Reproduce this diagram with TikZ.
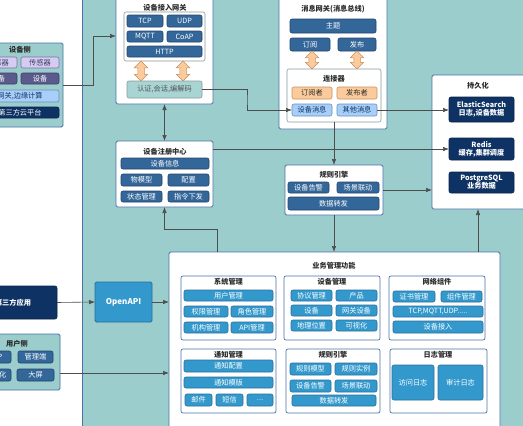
\documentclass[tikz,border=0pt]{standalone}
\usepackage{fontspec}
\setmainfont{Noto Sans CJK SC}
\usetikzlibrary{arrows.meta,shapes.arrows,calc}
\definecolor{tealbg}{HTML}{9BCDCD}
\definecolor{bordC}{HTML}{4A72A8}
\definecolor{dkF}{HTML}{336699}
\definecolor{dkD}{HTML}{23446B}
\definecolor{mdF}{HTML}{3399CC}
\definecolor{mdD}{HTML}{2A6E99}
\definecolor{nvF}{HTML}{0E3264}
\definecolor{nvD}{HTML}{0A2448}
\definecolor{orgF}{HTML}{FCCB9B}
\definecolor{orgD}{HTML}{C89060}
\definecolor{lbF}{HTML}{A7CFF7}
\definecolor{lbD}{HTML}{6A8FBF}
\definecolor{lavF}{HTML}{D6CCF2}
\definecolor{lavD}{HTML}{7A72A8}
\definecolor{purF}{HTML}{5A5A8C}
\definecolor{purD}{HTML}{3E3E66}
\definecolor{authF}{HTML}{A8D4D3}
\definecolor{authD}{HTML}{8A9A9A}
\definecolor{lineC}{HTML}{4D4D4D}
\definecolor{txtC}{HTML}{2B2B2B}
\newcommand\mybox[7]{%
  \pgfmathsetmacro\bxw{(#5)-(#3)}\pgfmathsetmacro\bxh{(#6)-(#4)}%
  \pgfmathsetmacro\bxcx{((#3)+(#5))/2}\pgfmathsetmacro\bxcy{((#4)+(#6))/2}%
  \node[#2, minimum width=\bxw pt, minimum height=\bxh pt] (#1) at (\bxcx,\bxcy) {#7};}
\tikzset{
  base/.style={inner sep=0pt, outer sep=0pt, font=\fontsize{7.2}{8.2}\selectfont, align=center},
  outerbox/.style={base, draw=bordC, fill=white, line width=0.8pt, rounded corners=1.5pt},
  grpbox/.style={base, draw=bordC, fill=white, line width=0.7pt, rounded corners=2pt},
  inbox/.style={base, draw=authD, fill=white, line width=0.6pt, rounded corners=2pt},
  sidebox/.style={base, draw=bordC, fill=tealbg, line width=0.8pt, rounded corners=1.5pt},
  itm/.style={base, rounded corners=2pt, line width=0.6pt},
  dk/.style={itm, fill=dkF, draw=dkD, text=white},
  md/.style={itm, fill=mdF, draw=mdD, text=white},
  nv/.style={itm, fill=nvF, draw=nvD, text=white},
  org/.style={itm, fill=orgF, draw=orgD, text=txtC},
  lb/.style={itm, fill=lbF, draw=lbD, text=nvF},
  lav/.style={itm, fill=lavF, draw=lavD, text=purD},
  pur/.style={itm, fill=purF, draw=purD, text=white},
  authS/.style={itm, fill=authF, draw=authD, text=txtC!80},
  apiS/.style={base, fill=mdF, draw=mdD, line width=0.8pt, rounded corners=1.5pt, text=white, font=\fontsize{8}{9}\selectfont\bfseries},
  ttl/.style={base, text=txtC, font=\fontsize{7.2}{8.2}\selectfont\bfseries},
  dbl/.style={double arrow, shape border rotate=90, draw=orgD, fill=orgF, line width=0.5pt,
     inner sep=3pt, minimum height=20pt, double arrow head extend=3.5pt},
  conn/.style={draw=lineC, line width=0.6pt, -{Latex[length=6pt,width=4.5pt]}},
  conn2/.style={draw=lineC, line width=0.6pt, {Latex[length=6pt,width=4.5pt]}-{Latex[length=6pt,width=4.5pt]}}
}
\begin{document}
\begin{tikzpicture}[x=1pt,y=-1pt]
\useasboundingbox (0,0) rectangle (523,426);
\clip (0,0) rectangle (523,426);
\fill[white] (0,0) rectangle (523,426);
\fill[tealbg] (82,-10) rectangle (540,440);
\draw[bordC, line width=0.8pt] (82,-10) -- (82,440);

% device access gateway
\mybox{gw}{outerbox}{116}{-5}{213}{104}{}
\node[ttl] (gwT) at (165,7.5) {设备接入网关};
\mybox{gwin}{inbox}{124}{12}{205}{61}{}
\mybox{tcp}{dk}{127}{15}{163}{27}{TCP}
\mybox{udp}{dk}{167}{15}{202}{27}{UDP}
\mybox{mqtt}{dk}{127}{31}{163}{42}{MQTT}
\mybox{coap}{dk}{167}{31}{202}{42}{CoAP}
\mybox{http}{dk}{127}{46}{202}{57}{HTTP}
\node[dbl] (da1) at (141,71) {};
\node[dbl] (da2) at (183,71) {};
\mybox{auth}{authS}{127}{81}{202}{98}{认证,会话,编解码}

% message gateway
\mybox{mg}{outerbox}{279}{-5}{387}{129}{}
\node[ttl] (mgT) at (333,9.5) {消息网关(消息总线)};
\mybox{topic}{dk}{290}{19}{376}{33}{主题}
\mybox{sub}{dk}{290}{38}{330}{51}{订阅}
\mybox{pub}{dk}{338}{38}{376}{51}{发布}
\node[dbl, minimum height=18pt] (da3) at (312,60) {};
\node[dbl, minimum height=18pt] (da4) at (357,60) {};
\mybox{cn}{inbox}{287}{69}{381}{122}{}
\node[ttl] (cnT) at (334,79) {连接器};
\mybox{suber}{org}{292}{87}{332}{99}{订阅者}
\mybox{puber}{org}{337}{87}{377}{99}{发布者}
\mybox{devmsg}{lb}{292}{104}{332}{116}{设备消息}
\mybox{othmsg}{lb}{337}{104}{377}{116}{其他消息}

% persistence
\mybox{pers}{outerbox}{432}{75}{528}{209}{}
\node[ttl] (persT) at (478,86) {持久化};
\mybox{es}{nv}{449}{97}{514}{122}{\bfseries ElasticSearch\\\bfseries 日志,设备数据}
\mybox{redis}{nv}{449}{138}{514}{160}{\bfseries Redis\\\bfseries 缓存,集群调度}
\mybox{pg}{nv}{449}{172}{514}{193}{\bfseries PostgreSQL\\\bfseries 业务数据}

% registry
\mybox{reg}{outerbox}{116}{141}{213}{207}{}
\node[ttl] (regT) at (165,152) {设备注册中心};
\mybox{devinfo}{dk}{121}{158}{209}{169}{设备信息}
\mybox{tsl}{dk}{121}{174}{162}{186}{物模型}
\mybox{cfg}{dk}{168}{174}{209}{186}{配置}
\mybox{state}{dk}{121}{191}{162}{202}{状态管理}
\mybox{cmd}{dk}{168}{191}{209}{202}{指令下发}

% rule engine
\mybox{rule}{outerbox}{285}{165}{383}{215}{}
\node[ttl] (ruleT) at (334,174.5) {规则引擎};
\mybox{ralarm}{dk}{288}{182}{329}{193}{设备告警}
\mybox{rscene}{dk}{337}{182}{379}{193}{场景联动}
\mybox{rfwd}{dk}{288}{197}{379}{210}{数据转发}

% business
\mybox{biz}{outerbox}{169}{252}{500}{432}{}
\node[ttl] (bizT) at (334,266) {业务管理功能};
\mybox{sys}{grpbox}{181}{276}{276}{340}{}
\node[ttl] (sysT) at (228.5,282) {系统管理};
\mybox{usr}{md}{184}{290}{273}{301}{用户管理}
\mybox{perm}{md}{184}{306}{228}{317}{权限管理}
\mybox{role}{md}{231}{306}{273}{317}{角色管理}
\mybox{orgm}{md}{184}{322}{228}{333}{机构管理}
\mybox{apim}{md}{231}{322}{273}{333}{API管理}
\mybox{dm}{grpbox}{284}{276}{380}{340}{}
\node[ttl] (dmT) at (332,282) {设备管理};
\mybox{proto}{md}{291}{290}{332}{301}{协议管理}
\mybox{prod}{md}{336}{290}{377}{301}{产品}
\mybox{dev}{md}{291}{305}{332}{316}{设备}
\mybox{gwdev}{md}{336}{305}{377}{316}{网关设备}
\mybox{geo}{md}{291}{320}{332}{331}{地理位置}
\mybox{vis}{md}{336}{320}{377}{331}{可视化}
\mybox{net}{grpbox}{389}{276}{485}{340}{}
\node[ttl] (netT) at (437,282) {网络组件};
\mybox{cert}{md}{393}{291}{435}{302}{证书管理}
\mybox{comp}{md}{441}{291}{482}{302}{组件管理}
\mybox{proto2}{md}{393}{306}{483}{317}{TCP,MQTT,UDP.....}
\mybox{access}{md}{393}{321}{483}{333}{设备接入}
\mybox{ntf}{grpbox}{181}{349}{276}{413}{}
\node[ttl] (ntfT) at (228.5,354.5) {通知管理};
\mybox{ncfg}{md}{184}{360}{273}{372}{通知配置}
\mybox{ntpl}{md}{184}{377}{273}{388}{通知模版}
\mybox{mail}{md}{185}{394}{212}{406}{邮件}
\mybox{sms}{md}{216}{394}{243}{406}{短信}
\mybox{etc}{md}{247}{394}{273}{406}{...}
\mybox{rl}{grpbox}{286}{349}{380}{413}{}
\node[ttl] (rlT) at (333,354.5) {规则引擎};
\mybox{rmodel}{md}{290}{363}{331}{375}{规则模型}
\mybox{rinst}{md}{335}{363}{377}{375}{规则实例}
\mybox{ralarm2}{md}{290}{380}{331}{392}{设备告警}
\mybox{rscene2}{md}{335}{380}{377}{392}{场景联动}
\mybox{rfwd2}{md}{292}{395}{376}{406}{数据转发}
\mybox{logg}{grpbox}{390}{349}{487}{413}{}
\node[ttl] (logT) at (438,354.5) {日志管理};
\mybox{alog}{md}{392}{365}{434}{400}{访问日志}
\mybox{olog}{md}{438}{365}{483}{400}{审计日志}

% OpenAPI, third party, user side
\mybox{api}{apiS}{95}{282}{152}{322}{OpenAPI}
\mybox{tp}{nv}{-31}{286}{57}{319}{\bfseries 第三方应用}
\mybox{user}{sidebox}{-26}{334}{60}{390}{}
\node[ttl] (userT) at (17,344) {用户侧};
\mybox{app}{dk}{-20}{351}{11}{363}{APP}
\mybox{admin}{dk}{18}{351}{53}{363}{管理端}
\mybox{uvis}{dk}{-20}{369}{11}{381}{可视化}
\mybox{screen}{dk}{17}{369}{54}{381}{大屏}

% device side
\mybox{devside}{sidebox}{-23}{43}{63}{127}{}
\node[ttl] (dsT) at (20,50) {设备侧};
\mybox{s1}{lav}{-21}{57}{17}{68}{传感器}
\mybox{s2}{lav}{21}{57}{59}{68}{传感器}
\mybox{d1}{pur}{-21}{73}{17}{84}{设备}
\mybox{d2}{pur}{21}{73}{59}{84}{设备}
\mybox{edge}{lb}{-19}{90}{59}{102}{网关,边缘计算}
\mybox{cloud}{nv}{-19}{107}{59}{118}{第三方云平台}

% connectors
\coordinate (b1) at (93,36);
\draw[conn] (devside.east) -| (b1) -- (b1 -| gw.west);
\coordinate (b2) at (247,100);
\draw[conn] (auth.east) -| (b2) |- (devmsg.west);
\draw[conn] (othmsg.east) -- (othmsg.east -| es.west);
\draw[conn2] (gw.south) -- (reg.north);
\draw[conn] (redis.west -| reg.east) -- (redis.west);
\draw[conn] (cn.south) -- (rule.north);
\draw[conn] (rule.east) -- (rule.east -| pers.west);
\draw[conn] (rule.south) -- (rule.south |- biz.north);
\coordinate (b3) at (217,229);
\draw[conn] (b3 |- biz.north) -- (b3) -| (reg.south);
\coordinate (b4) at (478,230);
\draw[conn] (b4 |- biz.north) -- (b4 |- pers.south);
\draw[conn] (tp.east) -- (api.west);
\draw[conn] (api.east) -- (api.east -| biz.west);
\coordinate (b5) at (60,373);
\draw[conn] (b5 -| user.east) -- (b5 -| biz.west);
\end{tikzpicture}
\end{document}
